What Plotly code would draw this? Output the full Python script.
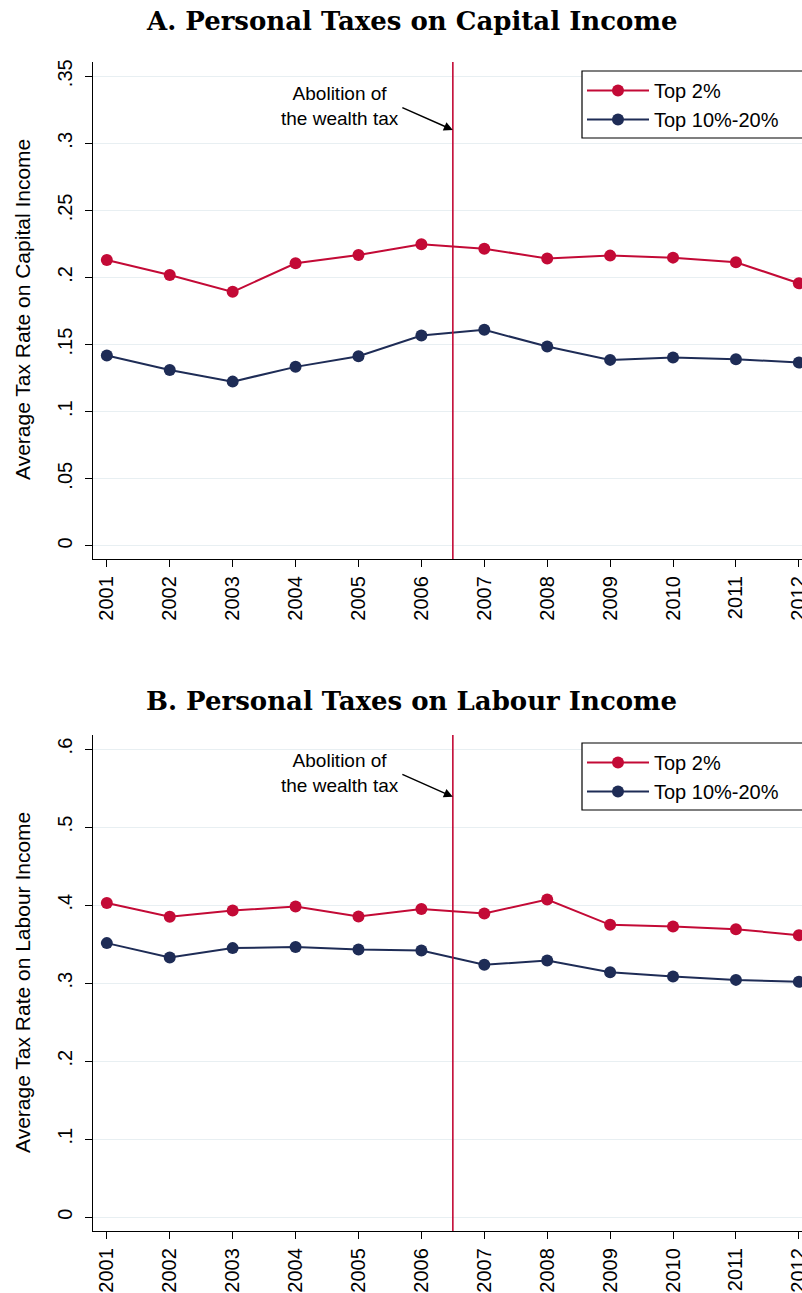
import plotly.graph_objects as go

years = list(range(2001, 2013))

cap_top2 = [0.2131, 0.2019, 0.1893, 0.2106, 0.2168, 0.2248, 0.2215, 0.2141, 0.2163, 0.2148, 0.2114, 0.1957]
cap_top10_20 = [0.1418, 0.1311, 0.1224, 0.1334, 0.1413, 0.1567, 0.1610, 0.1485, 0.1386, 0.1403, 0.1391, 0.1366]

lab_top2 = [0.4026, 0.3850, 0.3931, 0.3982, 0.3854, 0.3949, 0.3892, 0.4072, 0.3747, 0.3726, 0.3692, 0.3615]
lab_top10_20 = [0.3513, 0.3328, 0.3449, 0.3462, 0.3431, 0.3418, 0.3235, 0.3290, 0.3141, 0.3085, 0.3042, 0.3017]

cap_ticks = [0, 0.05, 0.1, 0.15, 0.2, 0.25, 0.3, 0.35]
cap_ticktext = ["0", ".05", ".1", ".15", ".2", ".25", ".3", ".35"]
lab_ticks = [0, 0.1, 0.2, 0.3, 0.4, 0.5, 0.6]
lab_ticktext = ["0", ".1", ".2", ".3", ".4", ".5", ".6"]

series_names = ["Top 2%", "Top 10%-20%"]
titles = ["A. Personal Taxes on Capital Income", "B. Personal Taxes on Labour Income"]
ytitles = ["Average Tax Rate on Capital Income", "Average Tax Rate on Labour Income"]
event_year = 2006.5
event_text = "Abolition of<br>the wealth tax"

RED = "#c30a36"
NAVY = "#1e2c56"
GRID = "#e8eff2"
SANS = "Liberation Sans, Arial, sans-serif"
SERIF = "DejaVu Serif, Liberation Serif, serif"

W, H = 802, 1293
L = 93
fig = go.Figure()

def add_series(xaxis, yaxis, legend, y1, y2):
    for name, vals, col in [(series_names[0], y1, RED), (series_names[1], y2, NAVY)]:
        fig.add_trace(go.Scatter(
            x=years, y=vals, name=name, mode="lines+markers",
            line=dict(color=col, width=2),
            marker=dict(color=col, size=12),
            xaxis=xaxis, yaxis=yaxis, legend=legend,
        ))

add_series("x", "y", "legend", cap_top2, cap_top10_20)
add_series("x2", "y2", "legend2", lab_top2, lab_top10_20)

def py(p):
    return (H - p) / H

def px(p):
    return (p - L) / (W - L)

top_dom = [py(559), py(62)]
bot_dom = [py(1231), py(735)]

xcommon = dict(
    range=[2000.78, 2012.05], tickvals=years, ticktext=[str(y) for y in years],
    tickangle=-90, showgrid=False, showline=True, linecolor="black", linewidth=1.3,
    ticks="outside", ticklen=7, tickcolor="black", tickwidth=1.3,
    tickfont=dict(family=SANS, size=20, color="black"), zeroline=False,
    automargin=False, fixedrange=True, ticklabelstandoff=1,
    ticklabeloverflow="allow",
)
ycommon = dict(
    tickangle=-90, showgrid=True, gridcolor=GRID, gridwidth=1.3,
    showline=True, linecolor="black", linewidth=1.3,
    ticks="outside", ticklen=7, tickcolor="black", tickwidth=1.3,
    tickfont=dict(family=SANS, size=20, color="black"), zeroline=False,
    automargin=False, fixedrange=True, ticklabelstandoff=5,
)

legend_common = dict(
    xref="paper", yref="paper", xanchor="left", yanchor="top",
    borderwidth=0, bgcolor="rgba(0,0,0,0)",
    font=dict(family=SANS, size=20, color="black"), itemwidth=62,
    tracegroupgap=0,
)

fig.update_layout(
    width=W, height=H,
    margin=dict(l=L, r=0, t=0, b=0),
    paper_bgcolor="white", plot_bgcolor="white",
    xaxis=dict(domain=[0, 1], anchor="y", **xcommon),
    yaxis=dict(domain=top_dom, anchor="x", range=[-0.0098, 0.3606],
               tickvals=cap_ticks, ticktext=cap_ticktext, **ycommon),
    xaxis2=dict(domain=[0, 1], anchor="y2", **xcommon),
    yaxis2=dict(domain=bot_dom, anchor="x2", range=[-0.0176, 0.618],
                tickvals=lab_ticks, ticktext=lab_ticktext, **ycommon),
    legend=dict(x=px(582), y=py(71), **legend_common),
    legend2=dict(x=px(582), y=py(743), **legend_common),
    showlegend=True,
)

# legend frames (open on the right, running past the figure edge)
for top in [71, 743]:
    fig.add_shape(type="rect", xref="paper", yref="paper",
                  x0=px(582), x1=px(830), y0=py(top + 67), y1=py(top),
                  line=dict(color="black", width=1.2), fillcolor="white", layer="above")

# panel titles
for t, ypix in zip(titles, [21, 701]):
    fig.add_annotation(text="<b>%s</b>" % t, xref="paper", yref="paper",
                       x=px(411), y=py(ypix), showarrow=False,
                       xanchor="center", yanchor="middle",
                       font=dict(family=SERIF, size=26, color="black"))

# y-axis titles
for t, ypix in zip(ytitles, [310, 983]):
    fig.add_annotation(text=t, xref="paper", yref="paper",
                       x=px(22), y=py(ypix), showarrow=False, textangle=-90,
                       xanchor="center", yanchor="middle",
                       font=dict(family=SANS, size=21, color="black"))

# vertical event lines and annotations
for xr, yr, yhead in [("x", "y", (546 - 130) / 1342.0), ("x2", "y2", (1217.3 - 797) / 780.0)]:
    fig.add_shape(type="line", xref=xr, yref=yr + " domain", x0=event_year, x1=event_year,
                  y0=0, y1=1, line=dict(color=RED, width=1.6))
    fig.add_annotation(text=event_text, xref=xr, yref=yr, x=event_year, y=yhead,
                       showarrow=False, xshift=-113, yshift=24, align="center",
                       font=dict(family=SANS, size=19, color="black"))
    fig.add_annotation(text="", xref=xr, yref=yr, x=event_year, y=yhead,
                       showarrow=True, ax=-52, ay=-23, arrowhead=2, arrowsize=1.2,
                       arrowwidth=1.5, arrowcolor="black")

fig.write_html("out.html",
               config={"displayModeBar": False},
               post_script="document.body.style.margin='0';document.body.style.overflow='hidden';")
